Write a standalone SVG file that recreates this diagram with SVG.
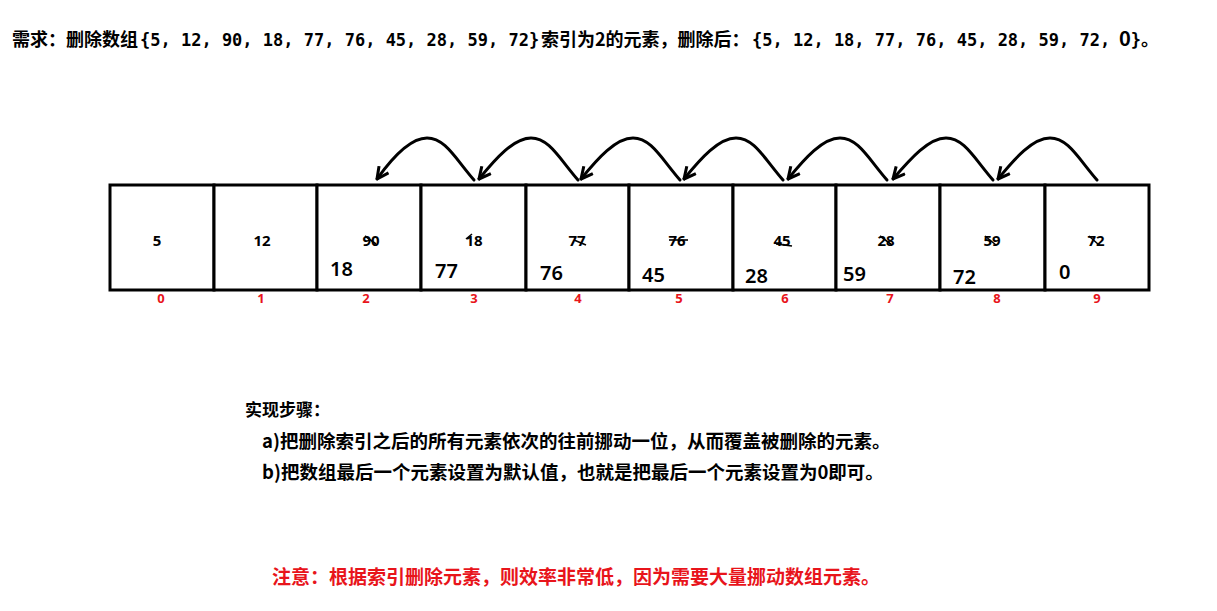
<svg xmlns="http://www.w3.org/2000/svg" width="1217" height="611" viewBox="0 0 1217 611">
<style>
.cjk{font-family:"Noto Sans CJK SC","Noto Sans",sans-serif;font-weight:bold;}
.mono{font-family:"DejaVu Sans Mono","Liberation Mono",monospace;font-weight:bold;}
.cell{fill:#fff;stroke:#000;stroke-width:3;}
.top{font-family:"Noto Sans","Liberation Sans",sans-serif;font-weight:bold;font-size:15px;text-anchor:middle;fill:#000;}
.bot{font-family:"Noto Sans","Liberation Sans",sans-serif;font-weight:600;font-size:20px;fill:#000;}
.idx{font-family:"Noto Sans","Liberation Sans",sans-serif;font-weight:bold;font-size:13px;text-anchor:middle;fill:#e8141b;}
.strike{stroke:#000;stroke-width:1.6;}
.arc{fill:none;stroke:#000;stroke-width:3;stroke-linecap:round;}
</style>
<defs>
<marker id="ah" viewBox="0 0 12 12" refX="11" refY="6" markerWidth="14" markerHeight="14" markerUnits="userSpaceOnUse" orient="auto">
<path d="M1,1 L11,6 L1,11" fill="none" stroke="#000" stroke-width="2.6" stroke-linejoin="miter"/>
</marker>
</defs>
<rect width="1217" height="611" fill="#fff"/>

<g id="title">
<text y="46"><tspan class="cjk" x="12" font-size="18">需求：删除数组</tspan><tspan class="mono" x="140" font-size="17">{5, 12, 90, 18, 77, 76, 45, 28, 59, 72}</tspan><tspan class="cjk" x="541" font-size="18">索引为2的元素，删除后：</tspan><tspan class="mono" x="752" font-size="17">{5, 12, 18, 77, 76, 45, 28, 59, 72,</tspan><tspan class="cjk" x="1119" font-size="20">0</tspan><tspan class="mono" font-size="17">}</tspan><tspan class="cjk" font-size="18">。</tspan></text>
</g>

<g id="cell0"><rect class="cell" x="110" y="185" width="104" height="105"/><text class="top" x="157" y="246">5</text><text class="idx" x="161" y="303">0</text></g>
<g id="cell1"><rect class="cell" x="214" y="185" width="103" height="105"/><text class="top" x="262" y="246">12</text><text class="idx" x="261" y="303">1</text></g>
<g id="cell2"><rect class="cell" x="317" y="185" width="104" height="105"/><text class="top" x="371" y="246">90</text><line class="strike" x1="365" y1="236" x2="376" y2="244"/><text class="bot" x="330" y="276">18</text><text class="idx" x="366" y="303">2</text></g>
<g id="cell3"><rect class="cell" x="421" y="185" width="105" height="105"/><text class="top" x="474" y="246">18</text><line class="strike" x1="466" y1="239" x2="472" y2="234"/><text class="bot" x="435" y="278">77</text><text class="idx" x="474" y="303">3</text></g>
<g id="cell4"><rect class="cell" x="526" y="185" width="103" height="105"/><text class="top" x="577" y="246">77</text><line class="strike" x1="574" y1="240" x2="586" y2="245"/><text class="bot" x="540" y="280">76</text><text class="idx" x="578" y="303">4</text></g>
<g id="cell5"><rect class="cell" x="629" y="185" width="104" height="105"/><text class="top" x="677" y="246">76</text><line class="strike" x1="669" y1="240" x2="688" y2="240"/><text class="bot" x="642" y="282">45</text><text class="idx" x="679" y="303">5</text></g>
<g id="cell6"><rect class="cell" x="733" y="185" width="103" height="105"/><text class="top" x="782" y="246">45</text><line class="strike" x1="776" y1="244" x2="792" y2="246"/><text class="bot" x="745" y="283">28</text><text class="idx" x="785" y="303">6</text></g>
<g id="cell7"><rect class="cell" x="836" y="185" width="104" height="105"/><text class="top" x="886" y="246">28</text><line class="strike" x1="880" y1="236" x2="892" y2="245"/><text class="bot" x="843" y="281">59</text><text class="idx" x="890" y="303">7</text></g>
<g id="cell8"><rect class="cell" x="940" y="185" width="105" height="105"/><text class="top" x="992" y="246">59</text><line class="strike" x1="985" y1="236" x2="996" y2="245"/><text class="bot" x="953" y="284">72</text><text class="idx" x="997" y="303">8</text></g>
<g id="cell9"><rect class="cell" x="1045" y="185" width="104" height="105"/><text class="top" x="1096" y="246">72</text><line class="strike" x1="1089" y1="236" x2="1099" y2="245"/><text class="bot" x="1059" y="279">0</text><text class="idx" x="1097" y="303">9</text></g>

<g id="connectors">
<path class="arc" marker-end="url(#ah)" d="M474,180 C455,158 445,138 427,138 C410,138 392,158 377,179"/>
<path class="arc" marker-end="url(#ah)" d="M578,180 C559,158 549,138 531,138 C514,138 496,158 479,179"/>
<path class="arc" marker-end="url(#ah)" d="M680,180 C661,158 651,138 633,138 C616,138 598,158 581,179"/>
<path class="arc" marker-end="url(#ah)" d="M783,180 C764,158 754,138 736,138 C719,138 701,158 684,179"/>
<path class="arc" marker-end="url(#ah)" d="M887,180 C868,158 858,138 840,138 C823,138 805,158 788,179"/>
<path class="arc" marker-end="url(#ah)" d="M993,180 C974,158 964,138 946,138 C929,138 911,158 893,179"/>
<path class="arc" marker-end="url(#ah)" d="M1097,180 C1078,158 1068,138 1050,138 C1033,138 1015,158 998,179"/>
</g>

<g id="steps">
<text class="cjk" x="245" y="416" font-size="17">实现步骤：</text>
<text class="cjk" x="262" y="448" font-size="18.5">a)把删除索引之后的所有元素依次的往前挪动一位，从而覆盖被删除的元素。</text>
<text class="cjk" x="262" y="479" font-size="18.5">b)把数组最后一个元素设置为默认值，也就是把最后一个元素设置为0即可。</text>
</g>

<g id="note">
<text class="cjk" x="272" y="584" font-size="19" fill="#e8141b">注意：根据索引删除元素，则效率非常低，因为需要大量挪动数组元素。</text>
</g>
</svg>
